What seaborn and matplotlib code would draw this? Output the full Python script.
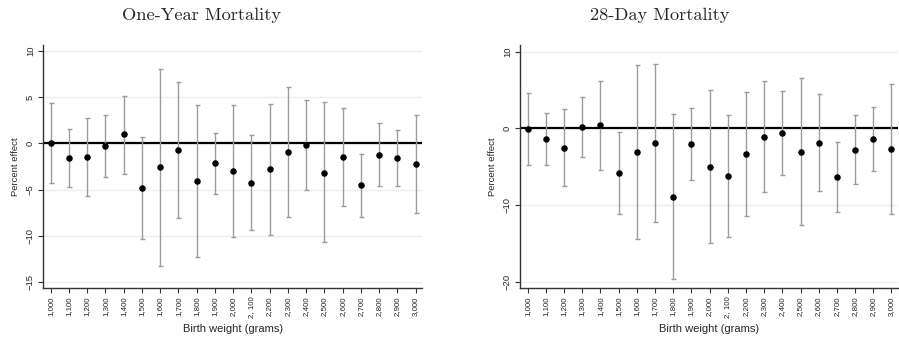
import numpy as np
import pandas as pd
import seaborn as sns
import matplotlib.pyplot as plt

# birth weight bins (grams)
weights = [1000, 1100, 1200, 1300, 1400, 1500, 1600, 1700, 1800, 1900, 2000,
           2100, 2200, 2300, 2400, 2500, 2600, 2700, 2800, 2900, 3000]
weight_labels = ["1,000", "1,100", "1,200", "1,300", "1,400", "1,500", "1,600",
                 "1,700", "1,800", "1,900", "2,000", "2, 100", "2,200", "2,300",
                 "2,400", "2,500", "2,600", "2,700", "2,800", "2,900", "3,000"]

# one-year mortality: estimate, upper and lower CI
yr_est = [0.0, -1.6, -1.45, -0.3, 0.95, -4.82, -2.6, -0.72, -4.1, -2.16, -3.0,
          -4.25, -2.8, -0.9, -0.18, -3.17, -1.47, -4.53, -1.22, -1.62, -2.23]
yr_hi = [4.3, 1.5, 2.75, 3.0, 5.15, 0.7, 8.0, 6.6, 4.14, 1.1, 4.1,
         0.9, 4.28, 6.1, 4.7, 4.5, 3.85, -1.15, 2.23, 1.44, 3.02]
yr_lo = [-4.3, -4.7, -5.65, -3.65, -3.3, -10.36, -13.2, -8.1, -12.3, -5.5, -10.07,
         -9.35, -9.93, -7.95, -5.04, -10.7, -6.76, -7.9, -4.64, -4.57, -7.5]

# 28-day mortality
d28_est = [-0.1, -1.43, -2.5, 0.13, 0.39, -5.86, -3.07, -1.9, -8.96, -2.08, -5.0,
           -6.27, -3.38, -1.08, -0.56, -3.03, -1.9, -6.36, -2.77, -1.39, -2.68]
d28_hi = [4.63, 2.0, 2.47, 4.07, 6.23, -0.48, 8.2, 8.44, 1.82, 2.6, 4.98,
          1.69, 4.68, 6.15, 4.85, 6.62, 4.46, -1.82, 1.69, 2.81, 5.84]
d28_lo = [-4.8, -4.8, -7.48, -3.8, -5.4, -11.2, -14.4, -12.25, -19.7, -6.7, -14.98,
          -14.2, -11.38, -8.27, -6.08, -12.6, -8.22, -10.9, -7.3, -5.6, -11.17]

sns.set_style("white")
plt.rcParams['font.family'] = ['Liberation Sans', 'DejaVu Sans']

fig = plt.figure(figsize=(8.99, 3.42), dpi=100)
W, H = 899, 342

panels = [
    dict(est=yr_est, hi=yr_hi, lo=yr_lo, left=43.3, right=422.3,
         ylim=(-15.64, 10.6), yticks=[-15, -10, -5, 0, 5, 10],
         ylabs=["\u221215", "\u221210", "\u22125", "0", "5", "10"],
         title="One-Year Mortality", tx=201),
    dict(est=d28_est, hi=d28_hi, lo=d28_lo, left=520.3, right=898.0,
         ylim=(-20.86, 10.87), yticks=[-20, -10, 0, 10],
         ylabs=["\u221220", "\u221210", "0", "10"],
         title="28-Day Mortality", tx=660),
]

top, bottom = 45.0, 288.3
for p in panels:
    ax = fig.add_axes([p["left"] / W, 1 - bottom / H,
                       (p["right"] - p["left"]) / W, (bottom - top) / H])
    df = pd.DataFrame({"weight": weights, "est": p["est"],
                       "hi": p["hi"], "lo": p["lo"]})

    for yt in p["yticks"]:
        ax.axhline(yt, color="#e8f0f0", lw=1.0, zorder=0)
    ax.axhline(0, color="black", lw=1.6, zorder=1)

    ax.errorbar(df["weight"], df["est"],
                yerr=[df["est"] - df["lo"], df["hi"] - df["est"]],
                fmt="none", ecolor="#9c9c9c", elinewidth=1.0,
                capsize=1.8, capthick=1.0, zorder=2)
    sns.scatterplot(data=df, x="weight", y="est", color="black", s=22,
                    edgecolor="black", linewidth=0, zorder=3, ax=ax)

    ax.set_xlim(959.5, 3036)
    ax.set_ylim(*p["ylim"])
    ax.set_xticks(weights)
    ax.set_xticklabels(weight_labels, rotation=90, fontsize=5.7)
    ax.set_yticks(p["yticks"])
    ax.set_yticklabels(p["ylabs"], rotation=90, fontsize=6.8, va="center")
    ax.tick_params(axis="both", direction="out", length=3.5, width=0.8,
                   color="#333333", pad=2.5, left=True, bottom=True)
    ax.set_xlabel("Birth weight (grams)", fontsize=8.0, labelpad=4)
    ax.set_ylabel("Percent effect", fontsize=6.8, labelpad=4)
    for side in ["top", "right"]:
        ax.spines[side].set_visible(False)
    for side in ["left", "bottom"]:
        ax.spines[side].set_color("#333333")
        ax.spines[side].set_linewidth(1.0)
    ax.grid(False)

    fig.text(p["tx"] / W, 1 - 15 / H, p["title"], family="cmr10",
             fontsize=13.2, ha="center", va="center")

fig.savefig("out.png", dpi=100)
